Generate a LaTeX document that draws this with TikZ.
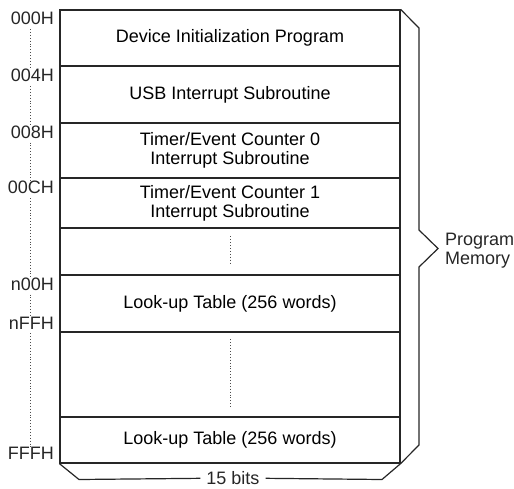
\documentclass[tikz,border=0pt]{standalone}
\usepackage{fontspec}
\setmainfont{Liberation Sans}
\begin{document}
\begin{tikzpicture}[x=1pt,y=-1pt,
  font=\fontsize{18}{19}\selectfont,
  line/.style={draw=black!85, line width=1.2pt},
  rowbox/.style={line, rectangle, minimum width=340pt, inner sep=0pt, align=center},
  lbl/.style={anchor=east, inner sep=2pt, text=black!85},
  vdots/.style={dotted, line width=0.9pt, black!70},
  txt/.style={text=black!85}]
\useasboundingbox (0,0) rectangle (514,488);
% rows
\node[rowbox, minimum height=56pt] (r1) at (230,38) {Device Initialization Program};
\node[rowbox, minimum height=57pt] (r2) at (230,94.5) {USB Interrupt Subroutine};
\node[rowbox, minimum height=55pt] (r3) at (230,150.5) {Timer/Event Counter 0\\Interrupt Subroutine};
\node[rowbox, minimum height=50pt] (r4) at (230,203) {Timer/Event Counter 1\\Interrupt Subroutine};
\node[rowbox, minimum height=47pt] (r5) at (230,251.5) {};
\node[rowbox, minimum height=57pt] (r6) at (230,303.5) {Look-up Table (256 words)};
\node[rowbox, minimum height=85pt] (r7) at (230,374.5) {};
\node[rowbox, minimum height=46pt] (r8) at (230,440) {Look-up Table (256 words)};
% dotted gaps inside rows
\draw[vdots] ([yshift=-9pt]r5.north) -- ([yshift=12pt]r5.south);
\draw[vdots] ([yshift=-8pt]r7.north) -- ([yshift=10pt]r7.south);
% address labels
\node[lbl] (a0) at (56,18.5) {000H};
\node[lbl] (a1) at (56,75.5) {004H};
\node[lbl] (a2) at (56,132) {008H};
\node[lbl] (a3) at (56,187.5) {00CH};
\node[lbl] (a4) at (56,284) {n00H};
\node[lbl] (a5) at (56,323) {nFFH};
\node[lbl] (a6) at (56,453.5) {FFFH};
\coordinate (lx) at (30,0);
\draw[vdots] (a0.south -| lx) ++(0,2) -- ([yshift=-2pt]a1.north -| lx);
\draw[vdots] (a1.south -| lx) ++(0,2) -- ([yshift=-2pt]a2.north -| lx);
\draw[vdots] (a2.south -| lx) ++(0,2) -- ([yshift=-2pt]a3.north -| lx);
\draw[vdots] (a3.south -| lx) ++(0,2) -- ([yshift=-2pt]a4.north -| lx);
\draw[vdots] (a4.south -| lx) ++(0,2) -- ([yshift=-2pt]a5.north -| lx);
\draw[vdots] (a5.south -| lx) ++(0,2) -- ([yshift=-2pt]a6.north -| lx);
% right brace
\node[txt, anchor=west, align=left, inner sep=0pt] (pm) at (445,251) {Program\\Memory};
\coordinate (tip) at (438,248.5);
\draw[line] (r1.north east) -- (419,28) -- (419,230) -- (tip) -- (419,267) -- (419,445) -- (r8.south east);
% bottom brace
\node[txt, inner xsep=6pt, inner ysep=0pt] (bits) at (233,478.3) {15 bits};
\draw[line] (r8.south west) -- (79,479.5) -- (bits.west);
\draw[line] (bits.east) -- (382,479.5) -- (r8.south east);
\end{tikzpicture}
\end{document}
